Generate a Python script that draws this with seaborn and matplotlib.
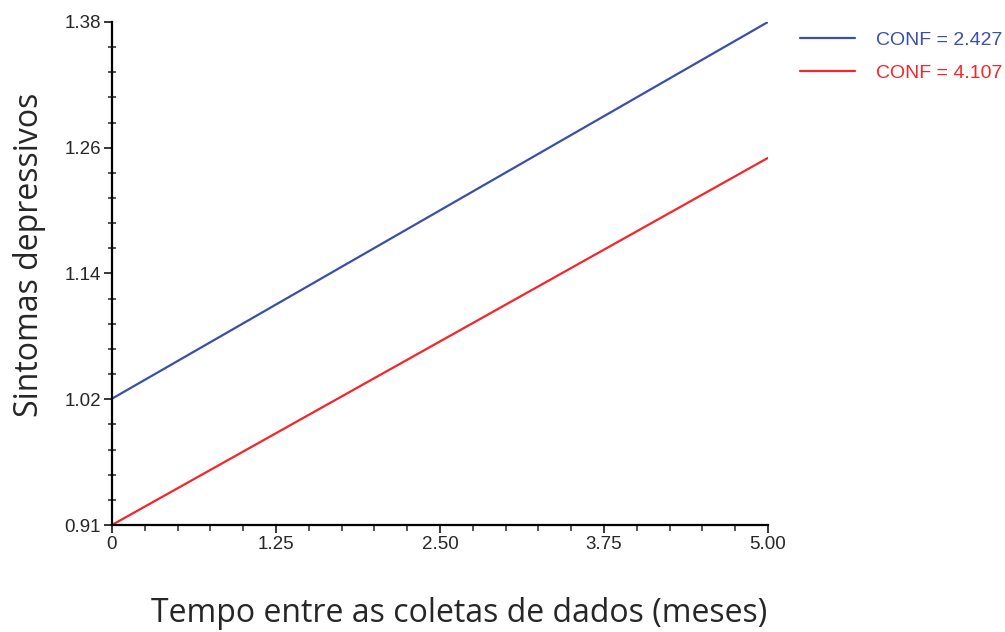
import numpy as np
import pandas as pd
import matplotlib.pyplot as plt
import seaborn as sns
from matplotlib.ticker import AutoMinorLocator, FixedLocator

# Values
months = [0.0, 5.0]
conf_2427 = [1.028, 1.380]
conf_4107 = [0.910, 1.253]
series_names = ['CONF = 2.427', 'CONF = 4.107']
x_ticks = [0, 1.25, 2.50, 3.75, 5.00]
x_tick_labels = ['0', '1.25', '2.50', '3.75', '5.00']
y_tick_labels = ['0.91', '1.02', '1.14', '1.26', '1.38']

line_colors = ['#3a50a8', '#f2262b']


def build_frame():
    rows = []
    for name, vals in zip(series_names, [conf_2427, conf_4107]):
        for m, v in zip(months, vals):
            rows.append({'Tempo': m, 'Sintomas': v, 'Grupo': name})
    return pd.DataFrame(rows)


def make_plot(data):
    sns.set_style('ticks')
    plt.rcParams['font.family'] = ['Liberation Sans', 'DejaVu Sans']

    fig = plt.figure(figsize=(10.05, 6.32), dpi=100)
    ax = fig.add_axes([0.1114, 0.1693, 0.6527, 0.7959])

    sns.lineplot(data=data, x='Tempo', y='Sintomas', hue='Grupo',
                 palette=line_colors, linewidth=1.6, ax=ax, legend=False)

    ax.set_xlim(0, 5)
    ax.set_ylim(0.91, 1.38)
    sns.despine(ax=ax)
    for side in ['left', 'bottom']:
        ax.spines[side].set_linewidth(1.6)
        ax.spines[side].set_color('black')

    # y ticks are evenly spaced in the original, labels are rounded
    ax.xaxis.set_major_locator(FixedLocator(x_ticks))
    ax.set_xticklabels(x_tick_labels, fontsize=13.5)
    ax.yaxis.set_major_locator(FixedLocator(np.linspace(0.91, 1.38, 5)))
    ax.set_yticklabels(y_tick_labels, fontsize=13.5)
    ax.xaxis.set_minor_locator(AutoMinorLocator(5))
    ax.yaxis.set_minor_locator(AutoMinorLocator(5))
    ax.tick_params(axis='x', which='major', direction='out', length=6, width=1.3, pad=2)
    ax.tick_params(axis='x', which='minor', direction='out', length=4, width=1.1)
    ax.tick_params(axis='y', which='major', direction='out', length=6, width=1.3, pad=2)
    ax.tick_params(axis='y', which='minor', direction='inout', length=6, width=1.1)

    ax.set_xlabel('Tempo entre as coletas de dados (meses)', fontsize=23,
                  family=['Open Sans', 'DejaVu Sans'])
    ax.set_ylabel('Sintomas depressivos', fontsize=23,
                  family=['Open Sans', 'DejaVu Sans'])
    ax.xaxis.set_label_coords(0.53, -0.143)
    ax.yaxis.set_label_coords(-0.100, 0.537)

    handles = ax.get_lines()[:2]
    fig.legend(handles, series_names, loc='upper left',
               bbox_to_anchor=(0.796, 0.951), frameon=False, fontsize=14,
               labelcolor='linecolor', handlelength=2.85, handletextpad=1.05,
               labelspacing=0.8, borderpad=0, borderaxespad=0)

    fig.savefig('out.png', dpi=100)
    plt.close(fig)


if __name__ == '__main__':
    make_plot(build_frame())
